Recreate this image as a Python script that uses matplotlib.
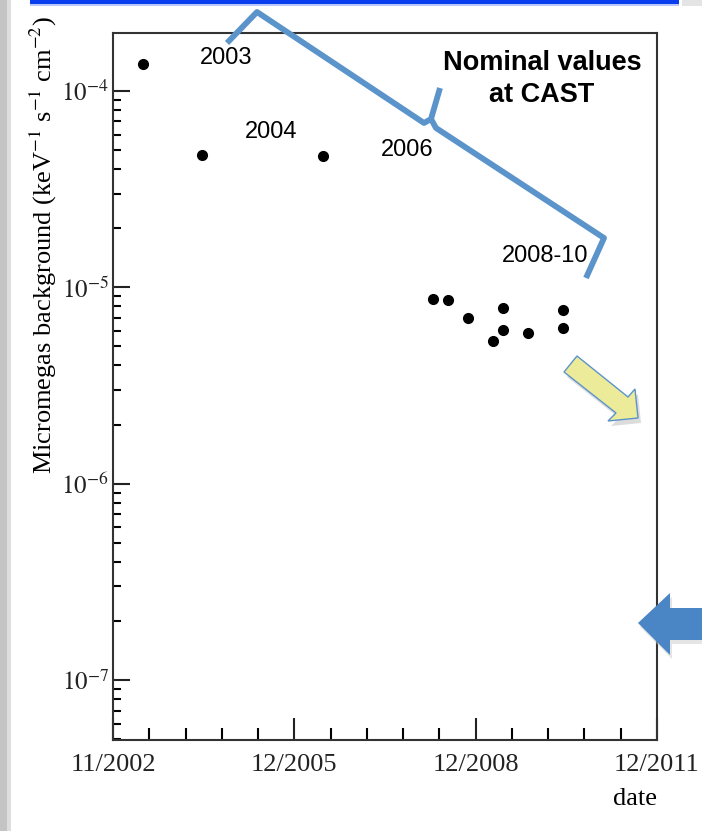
import numpy as np
import matplotlib
matplotlib.use("Agg")
import matplotlib.pyplot as plt
from matplotlib.patches import Polygon, Rectangle
from matplotlib.lines import Line2D
from matplotlib.ticker import FixedLocator, LogLocator, NullFormatter

# Datos: fecha (años decimales) y fondo del detector Micromegas
fechas = [2003.39, 2004.38, 2006.37, 2008.19, 2008.44, 2008.77,
          2009.35, 2009.35, 2009.19, 2009.76, 2010.35, 2010.35]
fondo = [1.37e-4, 4.72e-5, 4.67e-5, 8.74e-6, 8.61e-6, 7.0e-6,
         7.88e-6, 6.05e-6, 5.32e-6, 5.82e-6, 7.65e-6, 6.22e-6]

x_ticks = [2002.9, 2005.9, 2008.9, 2011.9]
x_labels = ["11/2002", "12/2005", "12/2008", "12/2011"]
y_ticks = [1e-7, 1e-6, 1e-5, 1e-4]
y_labels = [r"$10^{-7}$", r"$10^{-6}$", r"$10^{-5}$", r"$10^{-4}$"]

etiquetas = ["2003", "2004", "2006", "2008-10"]

W, H = 702, 831

plt.rcParams["font.family"] = ["Liberation Serif", "DejaVu Serif"]
plt.rcParams["mathtext.fontset"] = "stix"

fig = plt.figure(figsize=(W / 100, H / 100), dpi=100)


def px(x, y):
    # pixeles (origen arriba a la izquierda) -> fraccion de figura
    return (x / W, 1 - y / H)


ax = fig.add_axes([113 / W, 1 - 740 / H, (657 - 113) / W, (740 - 33) / H])
ax.plot(fechas, fondo, "o", color="black", markersize=7, zorder=5)

ax.set_yscale("log")
ax.set_xlim(x_ticks[0], x_ticks[-1])
ax.set_ylim(10 ** -7.305, 10 ** -3.705)

ax.set_xticks(x_ticks)
ax.set_xticklabels(x_labels)
ax.xaxis.set_minor_locator(FixedLocator(np.arange(x_ticks[0], x_ticks[-1], 0.6)))
ax.set_yticks(y_ticks)
ax.set_yticklabels(y_labels)
ax.yaxis.set_minor_locator(LogLocator(base=10, subs=np.arange(2, 10)))
ax.yaxis.set_minor_formatter(NullFormatter())

ax.tick_params(axis="x", which="major", direction="in", length=16, width=1.5,
               labelsize=19, pad=10, colors="#222222")
ax.tick_params(axis="x", which="minor", direction="in", length=8.5, width=1.5)
ax.tick_params(axis="y", which="major", direction="in", length=12, width=1.5,
               labelsize=18, pad=3, colors="#222222")
ax.tick_params(axis="y", which="minor", direction="in", length=6, width=1.5)
for s in ax.spines.values():
    s.set_linewidth(1.5)
    s.set_color("#333333")

ax.set_ylabel(r"Micromegas background (keV$^{-1}$ s$^{-1}$ cm$^{-2}$)",
              fontsize=19)
ax.yaxis.set_label_coords(-0.099, 0.70)
ax.set_xlabel("date", fontsize=19, loc="right", labelpad=9)

# Etiquetas de años
pos_etq = [(226, 58), (271, 132), (407, 150), (545, 256)]
for t, (x, y) in zip(etiquetas, pos_etq):
    fig.text(*px(x, y), t, fontsize=17, family="Liberation Sans",
             ha="center", va="center")
fig.text(*px(542, 79), "Nominal values\nat CAST", fontsize=19.5,
         family="Liberation Sans", weight="bold", ha="center", va="center",
         linespacing=1.3)

# Llave azul
azul = "#5b94ca"
brazo1 = [(227, 43), (257, 12), (424, 123), (431, 119), (440, 88)]
brazo2 = [(431, 119), (436, 128), (604, 238), (586, 278)]
for br in (brazo1, brazo2):
    xs, ys = zip(*[px(x, y) for x, y in br])
    fig.add_artist(Line2D(xs, ys, transform=fig.transFigure, color=azul,
                          linewidth=4.2, solid_joinstyle="round",
                          solid_capstyle="butt"))

# Flecha amarilla con sombra
flecha = [(577, 356), (628, 397), (635, 389), (638, 418), (608, 421),
          (616, 413), (564, 372)]
sombra = [px(x + 3, y + 5) for x, y in flecha]
fig.add_artist(Polygon(sombra, closed=True, transform=fig.transFigure,
                       facecolor="#bbbbbb", edgecolor="none", alpha=0.5))
fig.add_artist(Polygon([px(x, y) for x, y in flecha], closed=True,
                       transform=fig.transFigure, facecolor="#ebeb9a",
                       edgecolor="#5b94ca", linewidth=1))

# Flecha azul a la izquierda
flecha2 = [(638, 623), (670, 593), (670, 608), (705, 608), (705, 640),
           (670, 640), (670, 655)]
fig.add_artist(Polygon([px(x + 2, y + 4) for x, y in flecha2], closed=True,
                       transform=fig.transFigure, facecolor="#cccccc",
                       edgecolor="none", alpha=0.5))
fig.add_artist(Polygon([px(x, y) for x, y in flecha2], closed=True,
                       transform=fig.transFigure, facecolor="#4a86c6",
                       edgecolor="none"))

# Barra azul superior y franja gris izquierda
fig.add_artist(Rectangle(px(30, 4), (679 - 30) / W, 4 / H,
                         transform=fig.transFigure, facecolor="#0a3cf0",
                         edgecolor="none"))
fig.add_artist(Rectangle(px(30, 6), (679 - 30) / W, 2 / H,
                         transform=fig.transFigure, facecolor="#b8c8f8",
                         edgecolor="none"))
fig.add_artist(Rectangle(px(0, H), 7 / W, 1,
                         transform=fig.transFigure, facecolor="#c4c4c4",
                         edgecolor="none"))
fig.add_artist(Rectangle(px(7, H), 4 / W, 1,
                         transform=fig.transFigure, facecolor="#dedede",
                         edgecolor="none"))
fig.add_artist(Rectangle(px(682, 6), 20 / W, 6 / H,
                         transform=fig.transFigure, facecolor="#e4e4e4",
                         edgecolor="none"))

fig.savefig("out.png", dpi=100)
